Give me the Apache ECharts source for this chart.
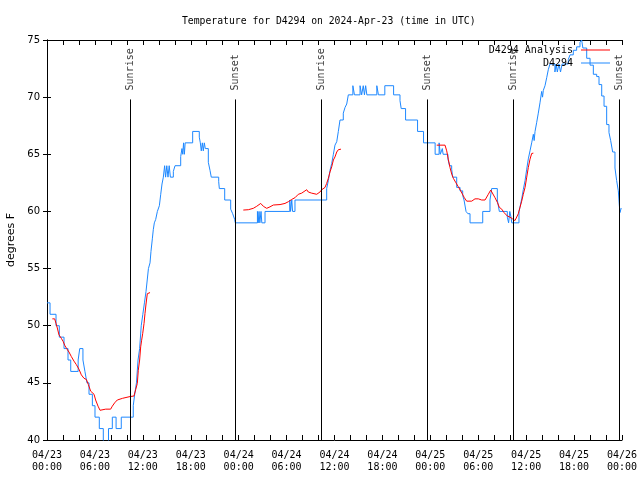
<!DOCTYPE html>
<html><head><meta charset="utf-8">
<script src="https://cdn.jsdelivr.net/npm/echarts@6/dist/echarts.min.js"></script>
<style>html,body{margin:0;padding:0;background:#fff}#c{width:640px;height:480px}</style>
</head><body><div id="c"></div>
<script>
const titleText = 'Temperature for D4294 on 2024-Apr-23 (time in UTC)';
const yAxisName = 'degrees F';
// x ticks every 2 hours, labels every 6 hours (hours since 04/23 00:00 UTC)
const xTickLabels = ['04/23\n00:00','04/23\n06:00','04/23\n12:00','04/23\n18:00',
  '04/24\n00:00','04/24\n06:00','04/24\n12:00','04/24\n18:00',
  '04/25\n00:00','04/25\n06:00','04/25\n12:00','04/25\n18:00','04/26\n00:00'];

// Observations (D4294), hours and °F at each change
const obsHours = [0,0.38,1.13,1.54,2.13,2.63,2.97,3.9,4.1,4.5,4.75,5.0,5.26,5.68,6.01,6.55,7.05,7.3,7.7,8.18,8.65,9.3,
  10.8,10.98,11.2,11.4,11.6,11.8,12.0,12.2,12.4,12.55,12.7,12.9,13.02,13.19,13.31,13.44,13.61,13.82,14.07,14.24,14.4,14.57,14.73,
  14.85,15.0,15.15,15.3,15.45,15.82,16.03,16.74,16.9,17.0,17.1,17.2,17.3,18.24,19.07,19.2,19.32,19.45,19.57,19.7,19.82,
  20.2,20.41,20.57,21.5,21.58,22.25,23.0,23.25,23.5,23.58,
  26.35,26.45,26.55,26.65,26.8,26.9,27.3,30.4,30.5,30.65,30.75,31.05,
  35.02,35.23,35.44,35.65,35.86,36.06,36.28,36.48,36.69,37.1,37.32,37.53,37.73,38.3,38.5,39.2,39.4,39.6,39.75,39.9,40.05,
  41.3,41.5,42.3,43.4,44.2,44.35,44.9,46.4,47.15,
  48.6,49.1,49.25,49.5,49.6,50.2,50.4,50.67,50.8,51.3,51.72,52.05,52.22,52.47,52.7,52.97,54.56,55.47,55.68,56.39,56.64,
  57.64,57.8,57.95,58.1,58.2,59.1,59.23,59.44,59.64,59.86,60.07,60.27,60.48,60.69,60.9,61.0,61.11,61.32,61.52,61.73,61.94,
  62.05,62.15,62.36,62.57,62.77,62.98,63.6,63.75,63.9,64.1,64.3,64.5,65.28,65.49,65.9,66.32,66.74,66.95,67.1,67.58,68.0,
  68.41,68.83,69.12,69.46,69.75,70.08,70.37,70.58,70.83,71.12,71.33,71.54,71.67,71.75,71.9];
const obsTemps = [52,51,50,49,48,47,46,47,48,47,46,45,44,43,42,41,40,39,41,42,41,42,
  43,44,45,47,48,50,51,52,53,54,55,55.5,56.5,57.6,58.4,59,59.3,60,60.5,61.5,62.4,63,64,
  63,64,63,64,63,63.5,64,64.8,65.5,65,66,65,66,67,66.5,66,65.3,66,65.3,66,65.5,
  64.3,63.6,63,62.6,62,61,60.2,59.8,59.3,59,
  60,59,60,59,60,59,60,61,60,61,60,61,
  62,62.7,63.6,64.2,65,65.8,66.1,67,68,68.6,69.1,69.4,70.2,71,70.2,71,70.2,71,70.2,71,70.2,
  71,70.2,71,70.2,69.7,69,68,67,66,
  65,66,65,65.5,65,64.6,64,63.7,63,62.1,61.8,61.4,61,60,59.8,59,60,61,62,61,60,
  59.5,59,60,59.5,59,60,60.4,61.1,61.9,62.7,63.7,64.6,65.3,66,66.75,66.2,67,67.8,68.6,69.5,70.5,
  70,70.6,71,71.7,72.4,72.9,72.2,72.9,72.2,72.9,72.2,72.9,73.3,73.7,74.1,74.4,74.8,75,74.3,73.4,72.8,
  72,71.8,71.1,70.1,69.2,67.6,66.9,66.2,65.2,63.8,62.7,61.8,60.5,59.9,60.3];

// Analysis (D4294 Analysis), three separate runs
const anaHours1 = [0.67,0.96,1.13,1.29,1.5,1.79,2.04,2.21,2.46,2.75,3.05,3.38,3.67,4.0,4.3,4.63,4.93,5.18,5.47,5.89,6.09,6.39,6.64,
  7.35,7.97,8.18,8.47,8.8,9.47,10.39,10.89,11.1,11.31,11.43,11.6,11.73,11.85,11.98,12.15,12.27,12.4,12.56,12.9];
const anaTemps1 = [50.6,50.6,50.2,49.8,49.2,48.9,48.6,48.3,48.0,47.7,47.3,46.9,46.6,46.2,45.7,45.4,45.3,44.85,44.27,44.0,43.5,42.96,42.6,
  42.7,42.7,42.96,43.25,43.5,43.65,43.8,43.85,44.4,44.95,46.1,47.0,48.15,48.73,49.3,50.2,51.07,51.9,52.8,52.9];
const anaHours2 = [24.58,25.21,25.83,26.26,26.76,27.09,27.51,27.92,28.34,29.18,29.8,30.22,30.64,31.05,31.47,31.89,32.52,32.72,33.14,
  33.77,34.18,34.4,34.81,35.02,35.23,35.44,35.65,35.86,36.06,36.28,36.48,36.81];
const anaTemps2 = [60.12,60.15,60.27,60.45,60.7,60.45,60.27,60.4,60.56,60.6,60.7,60.85,61.05,61.2,61.5,61.6,61.9,61.7,61.6,
  61.5,61.7,61.9,62.1,62.45,62.9,63.46,63.9,64.5,64.77,65.2,65.4,65.45];
const anaHours3 = [48.8,49.84,50.05,50.25,50.46,50.68,50.88,51.21,51.5,51.8,52.05,52.26,52.55,52.76,53.18,53.59,54.01,54.43,54.85,
  55.26,55.56,55.81,56.1,56.39,56.64,56.94,57.23,57.64,57.98,58.31,58.6,58.81,59.02,59.23,59.44,59.64,59.86,60.07,60.27,60.48,60.69,60.9];
const anaTemps3 = [65.8,65.8,65.3,64.57,63.85,63.26,62.9,62.5,62.16,61.8,61.65,61.2,60.9,60.8,60.9,61.1,61.1,61.0,61.0,
  61.5,61.87,61.8,61.2,60.8,60.36,60.2,59.9,59.6,59.5,59.34,59.2,59.3,59.8,60.36,60.9,61.5,62.1,63.0,63.85,64.57,65.07,65.1];

// Sunrise / sunset events
const eventNames = ['Sunrise','Sunset','Sunrise','Sunset','Sunrise','Sunset'];
const eventHours = [10.39,23.54,34.31,47.62,58.39,71.67];
const eventLineBottom = 40;
const eventLineTop = 69.8;

const MONO = '"DejaVu Sans Mono", "Liberation Mono", monospace';
const SANS = '"DejaVu Sans", "Liberation Sans", sans-serif';

const obsData = obsHours.map((h, i) => [h, obsTemps[i]]);
const zip = (a, b) => a.map((h, i) => [h, b[i]]);
const anaData = [].concat(zip(anaHours1, anaTemps1), [[18, null]], zip(anaHours2, anaTemps2), [[42, null]], zip(anaHours3, anaTemps3));

const xAxisBase = {
  type: 'value', min: 0, max: 72, interval: 2,
  axisLine: { show: true, lineStyle: { color: '#000', width: 1 } },
  axisTick: { show: true, inside: true, length: 5, lineStyle: { color: '#000' } },
  splitLine: { show: false }
};
const yAxisBase = {
  type: 'value', min: 40, max: 75, interval: 5,
  axisLine: { show: true, lineStyle: { color: '#000', width: 1 } },
  axisTick: { show: true, inside: true, length: 4, lineStyle: { color: '#000' } },
  splitLine: { show: false }
};

const chart = echarts.init(document.getElementById('c'), null, { renderer: 'canvas' });
chart.setOption({
  animation: false,
  backgroundColor: '#fff',
  title: {
    text: titleText, left: 182, top: 16, padding: 0,
    textStyle: { fontFamily: MONO, fontSize: 9.75, fontWeight: 'normal', color: '#000' }
  },
  grid: { left: 47, right: 18, top: 40, bottom: 40, containLabel: false, outerBoundsMode: 'none' },
  legend: {
    data: ['D4294 Analysis', 'D4294'],
    orient: 'vertical', right: 30, top: 44, align: 'right', padding: 0,
    icon: 'rect', itemWidth: 29, itemHeight: 1, itemGap: 1,
    textStyle: { fontFamily: MONO, fontSize: 10, color: '#000', padding: [0, 3, 0, 0], lineHeight: 12 }
  },
  xAxis: [
    Object.assign({}, xAxisBase, {
      position: 'bottom',
      axisLabel: {
        show: true, color: '#000', fontFamily: MONO, fontSize: 10, lineHeight: 12, margin: 9,
        formatter: v => (v % 6 === 0 ? xTickLabels[v / 6] : '')
      }
    }),
    Object.assign({}, xAxisBase, { position: 'top', axisLabel: { show: false } })
  ],
  yAxis: [
    Object.assign({}, yAxisBase, {
      position: 'left',
      name: yAxisName, nameLocation: 'middle', nameGap: 30,
      nameTextStyle: { fontFamily: SANS, fontSize: 11, color: '#000' },
      axisLabel: { show: true, color: '#000', fontFamily: SANS, fontSize: 10, margin: 7 }
    }),
    Object.assign({}, yAxisBase, { position: 'right', axisLabel: { show: false } })
  ],
  series: [
    {
      name: 'D4294', type: 'line', step: 'end', data: obsData,
      symbol: 'none', showSymbol: false,
      lineStyle: { color: '#1e88ff', width: 1 }, itemStyle: { color: '#1e88ff' }, z: 3
    },
    {
      name: 'D4294 Analysis', type: 'line', data: anaData, connectNulls: false,
      symbol: 'none', showSymbol: false,
      lineStyle: { color: '#ff0000', width: 1 }, itemStyle: { color: '#ff0000' }, z: 4
    },
    {
      name: 'events', type: 'scatter', symbolSize: 0, silent: true, z: 5,
      data: eventHours.map((h, i) => ({ value: [h, eventLineTop], name: eventNames[i] })),
      label: {
        show: true, position: 'top', distance: 7, rotate: 90, align: 'left', verticalAlign: 'middle',
        offset: [2, 0],
        formatter: p => p.name, fontFamily: MONO, fontSize: 10, color: '#000'
      },
      markLine: {
        silent: true, symbol: ['none', 'none'], animation: false,
        label: { show: false },
        lineStyle: { color: '#000', width: 1, type: 'solid' },
        data: eventHours.map(h => [{ coord: [h, eventLineBottom] }, { coord: [h, eventLineTop] }])
      }
    }
  ]
});
</script>
</body></html>
